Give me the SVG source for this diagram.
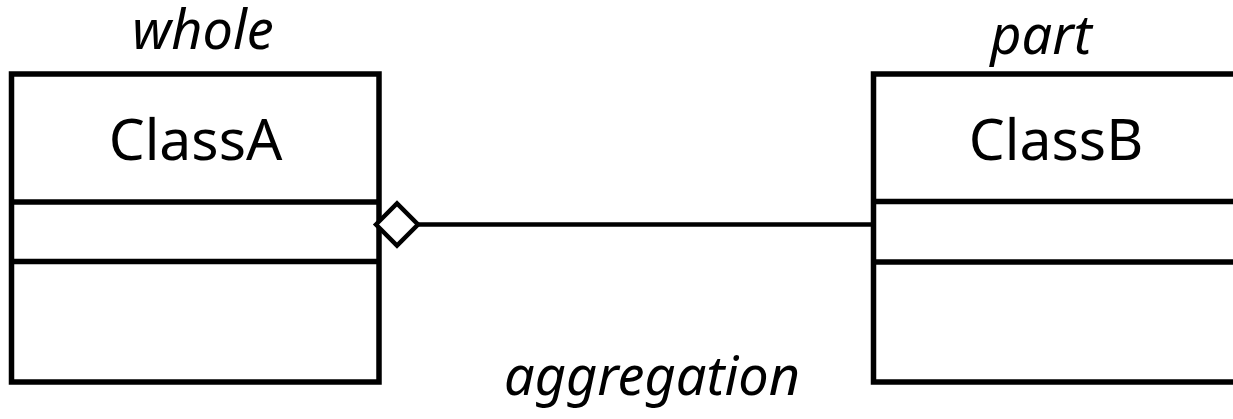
<svg xmlns="http://www.w3.org/2000/svg" width="1233" height="419" viewBox="0 0 1233 419">
<style>
.box{fill:#fff;stroke:#000;stroke-width:5.5}
.div{stroke:#000;stroke-width:5.5}
.name{font-family:"Noto Sans",sans-serif;font-size:57px;text-anchor:middle;fill:#000}
.role{font-family:"Noto Sans",sans-serif;font-style:italic;font-size:54px;text-anchor:middle;fill:#000}
.conn{stroke:#000;stroke-width:4.5;fill:none}
.dia{fill:#fff;stroke:#000;stroke-width:4.5;stroke-linejoin:miter}
</style>
<rect width="1233" height="419" fill="#fff"/>
<g id="classA">
<rect class="box" x="11.5" y="74" width="367.5" height="308"/>
<line class="div" x1="11.5" y1="202" x2="379" y2="202"/>
<line class="div" x1="11.5" y1="261.5" x2="379" y2="261.5"/>
<text class="name" x="195.5" y="160">ClassA</text>
<text class="role" x="203" y="49">whole</text>
</g>
<g id="classB">
<rect class="box" x="873.5" y="74" width="400" height="308"/>
<line class="div" x1="873.5" y1="201.5" x2="1240" y2="201.5"/>
<line class="div" x1="873.5" y1="262" x2="1240" y2="262"/>
<text class="name" x="1056" y="160">ClassB</text>
<text class="role" x="1041" y="54">part</text>
</g>
<g id="connectors">
<line class="conn" x1="418" y1="224.5" x2="873.5" y2="224.5"/>
<polygon class="dia" points="376,224.5 397,203.5 418,224.5 397,245.5"/>
<text class="role" x="652" y="395">aggregation</text>
</g>
</svg>
